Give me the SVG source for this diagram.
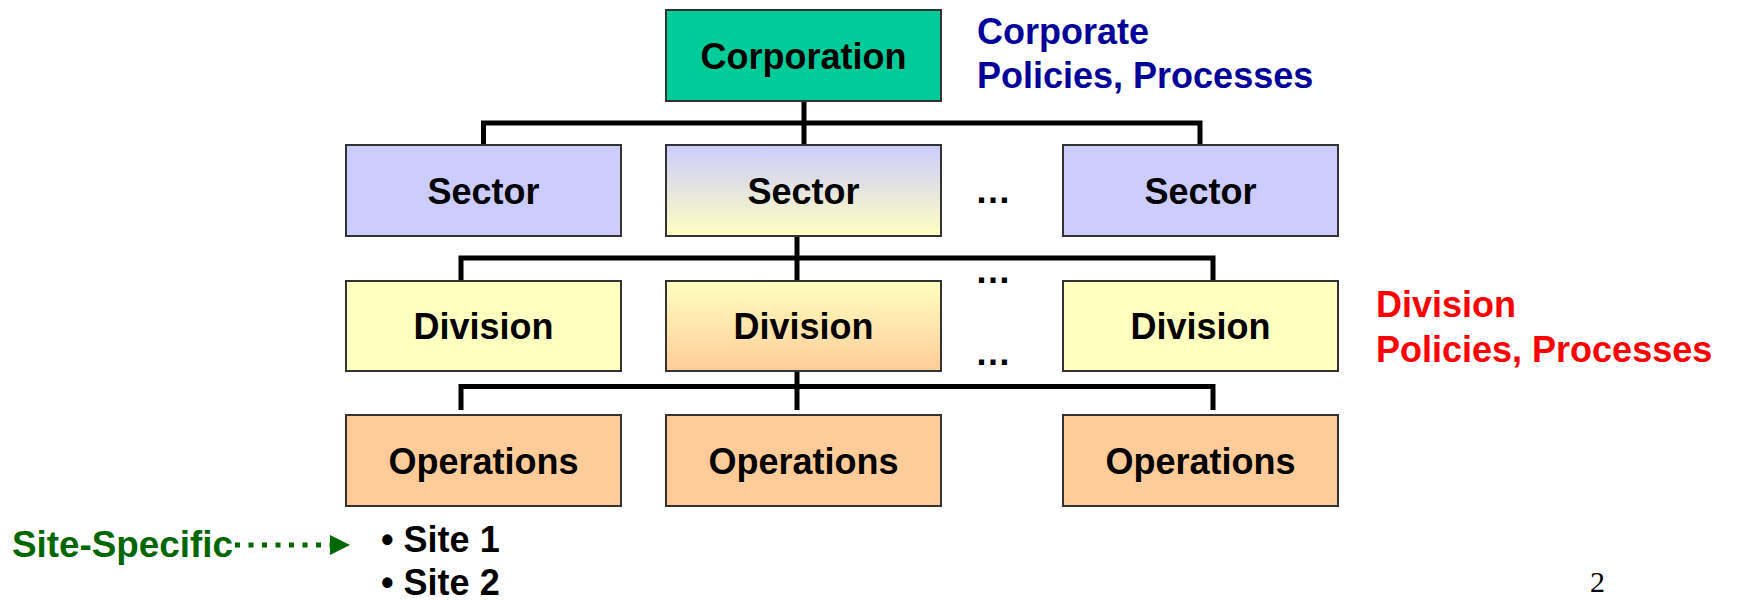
<svg xmlns="http://www.w3.org/2000/svg" width="1741" height="600" viewBox="0 0 1741 600">
<defs>
<linearGradient id="gSec" x1="0" y1="0" x2="0" y2="1">
<stop offset="0" stop-color="#CCCCFF"/>
<stop offset="1" stop-color="#FFFFC0"/>
</linearGradient>
<linearGradient id="gDiv" x1="0" y1="0" x2="0" y2="1">
<stop offset="0" stop-color="#FFFFC0"/>
<stop offset="1" stop-color="#FFCC99"/>
</linearGradient>
<marker id="arr" markerWidth="4" markerHeight="4" refX="0" refY="2" orient="auto" markerUnits="strokeWidth">
<path d="M0,0 L4,2 L0,4 Z" fill="#006600"/>
</marker>
<style>
.box{stroke:#333;stroke-width:2}
.lbl{font-family:"Liberation Sans",Arial,sans-serif;font-weight:bold;font-size:36px;fill:#000;text-anchor:middle}
.note{font-family:"Liberation Sans",Arial,sans-serif;font-weight:bold;font-size:36px}
.conn{fill:none;stroke:#000;stroke-width:5;stroke-linejoin:miter;stroke-linecap:butt}
</style>
</defs>
<rect width="1741" height="600" fill="#fff"/>
<g id="connectors">
<path class="conn" d="M483.5 145 V123 H1200 V145"/>
<path class="conn" d="M804 101 V145"/>
<path class="conn" d="M461 282 V258 H1213 V282"/>
<path class="conn" d="M797 236 V282"/>
<path class="conn" d="M461 410 V386.5 H1213 V410"/>
<path class="conn" d="M797 362 V410"/>
</g>
<g id="corporation"><rect class="box" x="666" y="10" width="275" height="91" fill="#00CC99"/><text class="lbl" x="803.5" y="69">Corporation</text></g>
<g id="sector1"><rect class="box" x="346" y="145" width="275" height="91" fill="#CCCCFF"/><text class="lbl" x="483.5" y="203.5">Sector</text></g>
<g id="sector2"><rect class="box" x="666" y="145" width="275" height="91" fill="url(#gSec)"/><text class="lbl" x="803.5" y="203.5">Sector</text></g>
<g id="sector3"><rect class="box" x="1063" y="145" width="275" height="91" fill="#CCCCFF"/><text class="lbl" x="1200.5" y="203.5">Sector</text></g>
<g id="division1"><rect class="box" x="346" y="281" width="275" height="90" fill="#FFFFC0"/><text class="lbl" x="483.5" y="339">Division</text></g>
<g id="division2"><rect class="box" x="666" y="281" width="275" height="90" fill="url(#gDiv)"/><text class="lbl" x="803.5" y="339">Division</text></g>
<g id="division3"><rect class="box" x="1063" y="281" width="275" height="90" fill="#FFFFC0"/><text class="lbl" x="1200.5" y="339">Division</text></g>
<g id="operations1"><rect class="box" x="346" y="415" width="275" height="91" fill="#FFCC99"/><text class="lbl" x="483.5" y="474">Operations</text></g>
<g id="operations2"><rect class="box" x="666" y="415" width="275" height="91" fill="#FFCC99"/><text class="lbl" x="803.5" y="474">Operations</text></g>
<g id="operations3"><rect class="box" x="1063" y="415" width="275" height="91" fill="#FFCC99"/><text class="lbl" x="1200.5" y="474">Operations</text></g>
<g id="ellipses" class="note" fill="#000">
<text x="975" y="203">…</text>
<text x="975" y="283">…</text>
<text x="975" y="365">…</text>
</g>
<g id="corporate-note" class="note" fill="#000099">
<text x="977" y="44">Corporate</text>
<text x="977" y="88">Policies, Processes</text>
</g>
<g id="division-note" class="note" fill="#FF0000">
<text x="1376" y="317">Division</text>
<text x="1376" y="362">Policies, Processes</text>
</g>
<g id="site-specific">
<text class="note" x="12" y="557" fill="#006600" textLength="221" lengthAdjust="spacingAndGlyphs">Site-Specific</text>
<line x1="235" y1="545" x2="330" y2="545" stroke="#006600" stroke-width="5" stroke-dasharray="5,8.5" marker-end="url(#arr)"/>
</g>
<g id="sites" class="note" fill="#000">
<text x="381" y="552">• Site 1</text>
<text x="381" y="595">• Site 2</text>
</g>
<text x="1590" y="592" font-family="Liberation Serif,'Times New Roman',serif" font-size="30" fill="#000">2</text>
</svg>
